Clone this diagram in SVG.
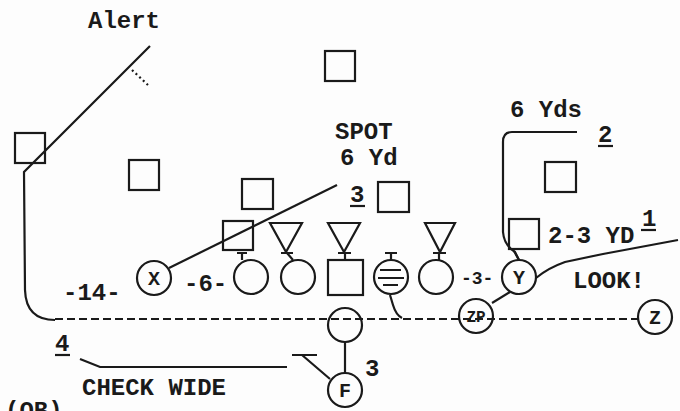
<svg xmlns="http://www.w3.org/2000/svg" width="680" height="411" viewBox="0 0 680 411">
<style>
.s{fill:none;stroke:#1a1a1a;stroke-width:2.2}
.t{font-family:"Liberation Mono","Courier New",monospace;font-weight:bold;fill:#1a1a1a;font-size:24px}
.c{font-family:"Liberation Mono","Courier New",monospace;font-weight:bold;fill:#1a1a1a;font-size:20px;text-anchor:middle}
.d{fill:none;stroke:#1a1a1a;stroke-width:2.2;stroke-dasharray:8 4}
</style>
<rect width="680" height="411" fill="#fdfdfd"/>
<g id="connectors">
<path class="s" d="M150,46 L24,172 L25,290 Q26,320 55,320"/>
<path class="s" d="M132,70 L148,85" stroke-dasharray="2 3"/>
<path class="d" d="M55,319 H638"/>
<path class="s" d="M337,185 L169,268"/>
<path class="s" d="M577,132 H512 Q503,132 503,142 V232 Q504,245 515,252 L519,260"/>
<path class="s" d="M536,278 Q548,268 565,262 L603,254 L678,240"/>
<path class="s" d="M510,292 L492,303"/>
<path class="s" d="M390,295 L393,305 Q396,315 402,318"/>
<path class="s" d="M345,342 V373"/>
<path class="s" d="M330,379 L302,355 M292,355 H317"/>
<path class="s" d="M80,359 L100,367 H287"/>
</g>
<g id="alert-label"><text class="t" x="88" y="28">Alert</text></g>
<g id="sq-left"><rect class="s" x="15" y="133" width="30" height="30"/></g>
<g id="sq-2"><rect class="s" x="129" y="160" width="30" height="30"/></g>
<g id="sq-top"><rect class="s" x="325" y="51" width="30" height="30"/></g>
<g id="sq-3"><rect class="s" x="242" y="179" width="31" height="30"/></g>
<g id="sq-4"><rect class="s" x="378" y="182" width="31" height="30"/></g>
<g id="sq-5"><rect class="s" x="545" y="162" width="31" height="30"/></g>
<g id="sq-6"><rect class="s" x="223" y="221" width="30" height="29"/><path class="s" d="M237,253 H247 M242,253 V260"/></g>
<g id="sq-7"><rect class="s" x="509" y="219" width="30" height="30"/><path class="s" d="M514,251 L519,260"/></g>
<g id="tri-1"><path class="s" d="M270,223 H302 L286,252 Z M281,253 H293 M287,253 L293,260"/></g>
<g id="tri-2"><path class="s" d="M328,223 H360 L344,252 Z M338,253 H351 M345,253 V260"/></g>
<g id="tri-3"><path class="s" d="M425,223 H455 L440,252 Z M433,253 H446 M439,253 V260"/></g>
<g id="x"><circle class="s" cx="154" cy="278" r="17"/><text class="c" x="154" y="285">X</text></g>
<g id="ol-1"><circle class="s" cx="251" cy="277" r="17"/></g>
<g id="ol-2"><circle class="s" cx="298" cy="277" r="17"/></g>
<g id="center"><rect class="s" x="328" y="260" width="35" height="35"/></g>
<g id="ol-3"><circle class="s" cx="391" cy="277" r="17"/><path class="s" d="M380,270 H401 M378,278 H404 M383,285 H398 M385,253 H397 M391,253 V260"/></g>
<g id="ol-4"><circle class="s" cx="436" cy="277" r="17"/></g>
<g id="y"><circle class="s" cx="519" cy="277" r="17"/><text class="c" x="519" y="284">Y</text></g>
<g id="qb"><circle class="s" cx="345" cy="325" r="17"/></g>
<g id="zp"><circle class="s" cx="476" cy="316" r="17"/><text class="c" x="476" y="322" style="font-size:16px">ZP</text></g>
<g id="z"><circle class="s" cx="655" cy="317" r="17"/><text class="c" x="655" y="324">Z</text></g>
<g id="f"><circle class="s" cx="345" cy="390" r="17"/><text class="c" x="345" y="397">F</text></g>
<g id="labels">
<text class="t" x="335" y="139">SPOT</text>
<text class="t" x="340" y="165">6 Yd</text>
<text class="t" x="350" y="202">3</text><path class="s" d="M350,206 H365"/>
<text class="t" x="510" y="117">6 Yds</text>
<text class="t" x="598" y="142">2</text><path class="s" d="M598,146 H613"/>
<text class="t" x="548" y="243">2-3 YD</text>
<text class="t" x="642" y="226">1</text><path class="s" d="M641,230 H656"/>
<text class="t" x="573" y="288">LOOK!</text>
<text class="t" x="63" y="300">-14-</text>
<text class="t" x="184" y="291">-6-</text>
<text class="t" x="461" y="284" style="font-size:18px">-3-</text>
<text class="t" x="55" y="351">4</text><path class="s" d="M55,355 H70"/>
<text class="t" x="82" y="395">CHECK WIDE</text>
<text class="t" x="365" y="376">3</text>
<text class="t" x="5" y="418">(QB)</text>
</g>
</svg>
